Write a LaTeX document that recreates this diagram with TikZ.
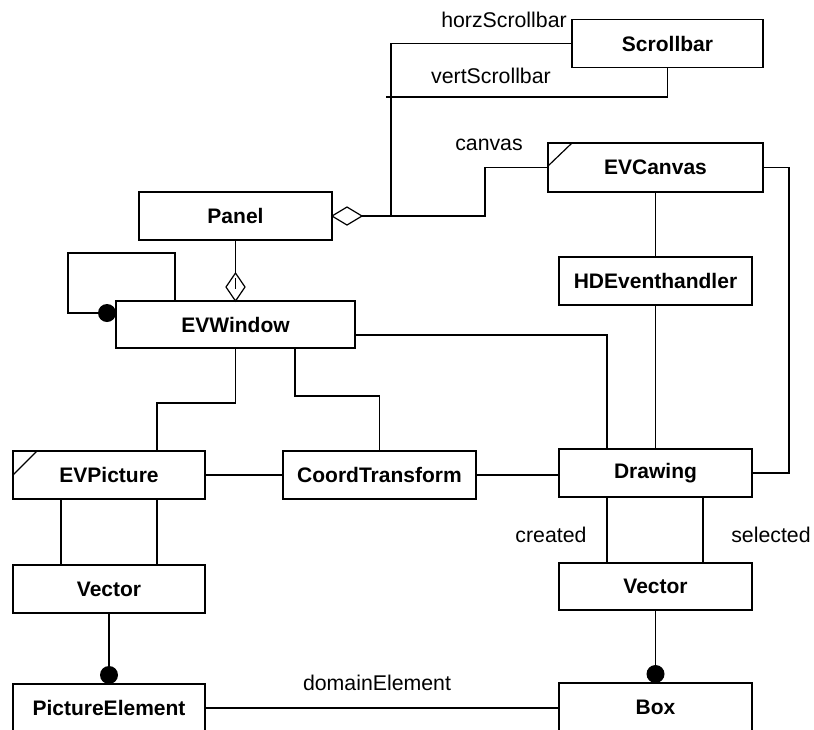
\documentclass[tikz,border=0pt]{standalone}
\usepackage{fontspec}
\setmainfont{Liberation Sans}
\usetikzlibrary{calc}
\begin{document}
\begin{tikzpicture}[x=1pt,y=-1pt,
  cls/.style={draw, line width=1.3pt, inner sep=0pt, outer sep=0pt,
    minimum height=48pt, font=\bfseries\fontsize{21}{24}\selectfont},
  conn/.style={line width=1.2pt},
  role/.style={anchor=base, inner sep=0pt, font=\fontsize{21.3}{24}\selectfont}]
\useasboundingbox (0,0) rectangle (814,729);
\clip (0,0) rectangle (814,729);

% classes
\node[cls, minimum width=191pt] (scroll) at (667.5,43.5) {Scrollbar};
\node[cls, minimum width=215pt, minimum height=49pt] (canvas) at (655.5,167.5) {EVCanvas};
\node[cls, minimum width=193pt] (panel) at (235.5,216) {Panel};
\node[cls, minimum width=193pt] (hd) at (655.5,281) {HDEventhandler};
\node[cls, minimum width=239pt, minimum height=47pt] (window) at (235.5,324.5) {EVWindow};
\node[cls, minimum width=192pt] (evpic) at (109,475) {EVPicture};
\node[cls, minimum width=193pt] (coord) at (379.5,475) {CoordTransform};
\node[cls, minimum width=193pt] (drawing) at (655.5,473) {Drawing};
\node[cls, minimum width=192pt] (vecL) at (109,589) {Vector};
\node[cls, minimum width=193pt, minimum height=47pt] (vecR) at (655.5,586.5) {Vector};
\node[cls, minimum width=192pt] (picel) at (109,708) {PictureElement};
\node[cls, minimum width=193pt] (box) at (655.5,707) {Box};

% corner marks of the two abstract classes
\draw[conn] ($(canvas.north west)+(0,23)$) -- ($(canvas.north west)+(24,0)$);
\draw[conn] ($(evpic.north west)+(0,24)$) -- ($(evpic.north west)+(24,0)$);

% role names
\node[role] (lhorz) at (504,27) {horzScrollbar};
\node[role] (lvert) at (491,83) {vertScrollbar};
\node[role] (lcanvas) at (489,150) {canvas};
\node[role] (lcreated) at (551,542) {created};
\node[role] (lselected) at (771,542) {selected};
\node[role] (ldomain) at (377,690) {domainElement};

% Panel aggregates scrollbars and canvas
\draw[conn] (panel.east) -- ++(15,-9) -- ++(15,9) -- ++(-15,9) -- cycle;
\coordinate (ptip) at ($(panel.east)+(30,0)$);
\coordinate (junc) at (391,216);
\coordinate (vjunc) at (386,97);
\draw[conn] (ptip) -- (485,216) |- (canvas.west);
\draw[conn] (scroll.west) -| (junc);
\draw[conn] (scroll.south) |- (vjunc);

% Panel aggregates EVWindow
\draw[conn] (window.north) -- ++(-9.5,-14) -- ++(9.5,-14) -- ++(9.5,14) -- cycle;
\draw[conn] (panel.south) -- ($(window.north)+(0,-28)$);
\draw[line width=0.8pt] ($(window.north)+(0,-23)$) -- ($(window.north)+(0,-12)$);

% EVWindow self association
\coordinate (selfdot) at ($(window.north west)+(-9,12)$);
\draw[conn] ($(window.north west)+(59,0)$) -- ++(0,-48) -| ($(selfdot)+(-39,0)$) -- (selfdot);
\fill (selfdot) circle (9pt);

% EVWindow associations
\draw[conn] ($(window.east)+(0,10.5)$) -| ($(drawing.north west)+(48,0)$);
\draw[conn] (window.south) -- ++(0,55) -| ($(evpic.north west)+(144,0)$);
\draw[conn] ($(window.south west)+(179,0)$) -- ++(0,48) -| (coord.north);

% horizontal row
\draw[conn] (evpic.east) -- (coord.west);
\draw[conn] (coord.east) -- (coord.east -| drawing.west);

% canvas, event handler, drawing
\draw[conn] (canvas.south) -- (hd.north);
\draw[conn] (hd.south) -- (drawing.north);
\draw[conn] (canvas.east) -- ++(26,0) |- (drawing.east);

% Drawing to its vectors
\coordinate (cr) at ($(drawing.south west)+(48,0)$);
\coordinate (sl) at ($(drawing.south west)+(144,0)$);
\draw[conn] (cr) -- (cr |- vecR.north);
\draw[conn] (sl) -- (sl |- vecR.north);

% EVPicture to its vector
\coordinate (pa) at ($(evpic.south west)+(48,0)$);
\coordinate (pb) at ($(evpic.south west)+(144,0)$);
\draw[conn] (pa) -- (pa |- vecL.north);
\draw[conn] (pb) -- (pb |- vecL.north);

% vectors hold many elements
\coordinate (dotL) at ($(picel.north)+(0,-9)$);
\coordinate (dotR) at ($(box.north)+(0,-9)$);
\draw[conn] (vecL.south) -- (dotL);
\fill (dotL) circle (9pt);
\draw[conn] (vecR.south) -- (dotR);
\fill (dotR) circle (9pt);

% domain element link
\draw[conn] (picel.east) -- (picel.east -| box.west);
\end{tikzpicture}
\end{document}
